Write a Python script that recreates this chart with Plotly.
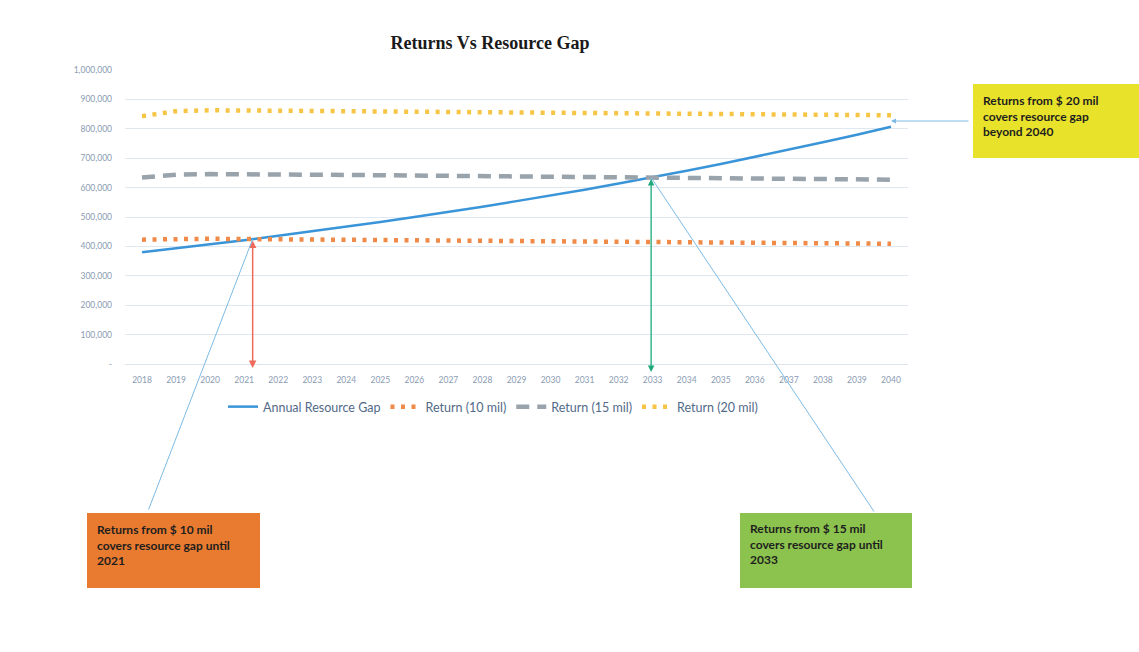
import plotly.graph_objects as go

# ---------------- data ----------------
years = list(range(2018, 2041))
resource_gap = [380000, 393000, 407000, 421000, 436000, 451000, 467000, 483000,
                500000, 517000, 535000, 554000, 573000, 593000, 614000, 635000,
                657000, 680000, 704000, 728000, 754000, 780000, 807000]
return_10 = [423000, 426000, 426000, 425000, 424000, 424000, 423000, 422000,
             421000, 421000, 420000, 419000, 418000, 418000, 417000, 416000,
             415000, 414000, 413000, 412000, 411000, 410000, 409000]
return_15 = [634000, 644000, 646000, 646000, 645000, 644000, 643000, 642000,
             641000, 640000, 639000, 638000, 637000, 636000, 635000, 634000,
             633000, 632000, 631000, 630000, 629000, 628000, 627000]
return_20 = [843000, 860000, 863000, 863000, 862000, 861000, 860000, 859000,
             858000, 857000, 857000, 856000, 855000, 854000, 853000, 852000,
             851000, 850000, 849000, 849000, 848000, 847000, 846000]
series_names = ["Annual Resource Gap", "Return (10 mil)", "Return (15 mil)", "Return (20 mil)"]
y_tickvals = [0, 100000, 200000, 300000, 400000, 500000, 600000, 700000, 800000, 900000, 1000000]
y_ticktext = ["-", "100,000", "200,000", "300,000", "400,000", "500,000",
              "600,000", "700,000", "800,000", "900,000", "1,000,000"]
title_text = "Returns Vs Resource Gap"
note_10 = "Returns from $ 10 mil<br>covers resource gap until<br>2021"
note_15 = "Returns from $ 15 mil<br>covers resource gap until<br>2033"
note_20 = "Returns from $ 20 mil<br>covers resource gap<br>beyond 2040"

# ---------------- layout geometry ----------------
W, H = 1139, 652
ML, MR, MT, MB = 125, 231, 70, 288
PW, PH = W - ML - MR, H - MT - MB
XMIN, XMAX = years[0] - 0.5, years[-1] + 0.5
YMAX = 1000000


def xp(px):  # pixel -> paper x
    return (px - ML) / PW


def yp(py):  # pixel -> paper y
    return (MT + PH - py) / PH


def xd(px):  # pixel -> data x
    return XMIN + (px - ML) / PW * (XMAX - XMIN)


def yd(py):  # pixel -> data y
    return (MT + PH - py) / PH * YMAX


def crossing(a, b):
    for i in range(1, len(a)):
        d0, d1 = a[i - 1] - b[i - 1], a[i] - b[i]
        if d0 < 0 <= d1:
            t = -d0 / (d1 - d0)
            return years[i - 1] + t, a[i - 1] + t * (a[i] - a[i - 1])
    return years[-1], a[-1]


tick_font = dict(family="Lato, Liberation Sans, sans-serif", size=8.5, color="#8A9BB2")

fig = go.Figure()
fig.add_trace(go.Scatter(x=years, y=resource_gap, name=series_names[0], mode="lines",
                         line=dict(color="#3A94D8", width=2.5)))
fig.add_trace(go.Scatter(x=years, y=return_10, name=series_names[1], mode="lines",
                         line=dict(color="#EF8A48", width=4.5, dash="4px,6.5px")))
fig.add_trace(go.Scatter(x=years, y=return_15, name=series_names[2], mode="lines",
                         line=dict(color="#99A3AC", width=4.5, dash="13px,8px")))
fig.add_trace(go.Scatter(x=years, y=return_20, name=series_names[3], mode="lines",
                         line=dict(color="#F6C546", width=4.5, dash="4px,6.5px")))

cx10, cy10 = crossing(resource_gap, return_10)
cx15, cy15 = crossing(resource_gap, return_15)

annotations = []
# vertical double-headed arrows at the crossing years
annotations.append(dict(x=cx10, y=yd(368), ax=cx10, ay=cy10, xref="x", yref="y", axref="x", ayref="y",
                        text="", showarrow=True, arrowhead=2, startarrowhead=2, arrowside="end+start",
                        arrowsize=1, arrowwidth=1.5, arrowcolor="#EE6A5A"))
annotations.append(dict(x=cx15, y=yd(372), ax=cx15, ay=cy15, xref="x", yref="y", axref="x", ayref="y",
                        text="", showarrow=True, arrowhead=2, startarrowhead=2, arrowside="end+start",
                        arrowsize=1, arrowwidth=1.3, arrowcolor="#1EA97C"))
# leader lines from the note boxes
annotations.append(dict(x=cx10, y=cy10, ax=xd(148), ay=yd(511), xref="x", yref="y", axref="x", ayref="y",
                        text="", showarrow=True, arrowhead=0, arrowwidth=1, arrowcolor="#7DBBE4"))
annotations.append(dict(x=cx15, y=cy15, ax=xd(875), ay=yd(513), xref="x", yref="y", axref="x", ayref="y",
                        text="", showarrow=True, arrowhead=0, arrowwidth=1, arrowcolor="#7DBBE4"))
annotations.append(dict(x=years[-1], y=(return_20[-1] + resource_gap[-1]) / 2, ax=xd(970),
                        ay=(return_20[-1] + resource_gap[-1]) / 2, xref="x", yref="y", axref="x", ayref="y",
                        text="", showarrow=True, arrowhead=2, arrowsize=1, arrowwidth=1, arrowcolor="#7DBBE4"))

note_font = dict(family="Lato, Liberation Sans, sans-serif", size=12, color="#1E1E1E")
for txt, px, py in [(note_10, 95, 520), (note_15, 748, 519), (note_20, 981, 91)]:
    annotations.append(dict(x=xp(px), y=yp(py), xref="paper", yref="paper", xanchor="left", yanchor="top",
                            align="left", showarrow=False, text="<b>" + txt + "</b>", font=note_font))

shapes = [
    dict(type="rect", xref="paper", yref="paper", x0=xp(87), x1=xp(260), y0=yp(513), y1=yp(588),
         fillcolor="#E97B30", line=dict(width=0), layer="below"),
    dict(type="rect", xref="paper", yref="paper", x0=xp(740), x1=xp(912), y0=yp(513), y1=yp(588),
         fillcolor="#8CC34E", line=dict(width=0), layer="below"),
    dict(type="rect", xref="paper", yref="paper", x0=xp(973), x1=xp(1139), y0=yp(84), y1=yp(158),
         fillcolor="#E9E22B", line=dict(width=0), layer="below"),
]

fig.update_layout(
    width=W, height=H,
    margin=dict(l=ML, r=MR, t=MT, b=MB, autoexpand=False),
    paper_bgcolor="white", plot_bgcolor="white",
    title=dict(text="<b>" + title_text + "</b>", x=490 / W, xref="container", xanchor="center",
               y=1 - 43 / H, yref="container", yanchor="middle",
               font=dict(family="Liberation Serif, Times New Roman, serif", size=18, color="#1A1A1A")),
    xaxis=dict(range=[XMIN, XMAX], tickmode="array", tickvals=years, ticktext=[str(y) for y in years],
               showgrid=False, zeroline=False, showline=True, linecolor="#DCE5EE", linewidth=1,
               ticks="", tickfont=tick_font, ticklabelstandoff=8),
    yaxis=dict(range=[0, YMAX], tickmode="array", tickvals=y_tickvals, ticktext=y_ticktext,
               showgrid=True, gridcolor="#DFE8F0", gridwidth=1, zeroline=False, showline=False,
               ticks="", tickfont=tick_font, ticklabelstandoff=12),
    legend=dict(orientation="h", x=xp(493), xanchor="center", y=yp(407), yanchor="middle",
                font=dict(family="Lato, Liberation Sans, sans-serif", size=12.5, color="#526A88"),
                bgcolor="rgba(0,0,0,0)", itemwidth=30),
    annotations=annotations,
    shapes=shapes,
    showlegend=True,
)

fig.write_html("out.html")
